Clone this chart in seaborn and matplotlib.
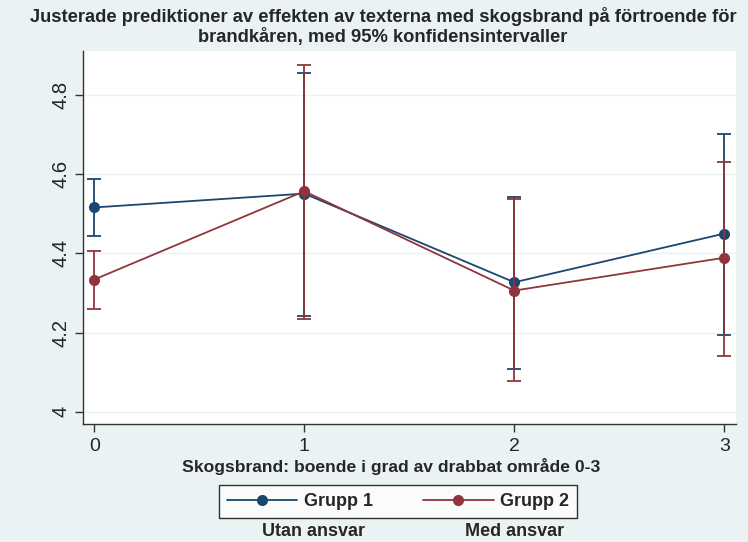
import matplotlib
matplotlib.use("Agg")
import matplotlib.pyplot as plt
import seaborn as sns
import pandas as pd
import numpy as np
from matplotlib.lines import Line2D

# Data
x_levels = [0, 1, 2, 3]
grupp1_mean = [4.516, 4.551, 4.327, 4.450]
grupp1_lo = [4.445, 4.242, 4.108, 4.194]
grupp1_hi = [4.588, 4.855, 4.542, 4.701]
grupp2_mean = [4.334, 4.557, 4.306, 4.389]
grupp2_lo = [4.260, 4.233, 4.077, 4.141]
grupp2_hi = [4.406, 4.877, 4.537, 4.631]
series_names = ["Grupp 1", "Grupp 2"]
y_ticks = [4.0, 4.2, 4.4, 4.6, 4.8]
y_ticklabels = ["4", "4.2", "4.4", "4.6", "4.8"]

title_lines = ["Justerade prediktioner av effekten av texterna med skogsbrand på förtroende för",
               "brandkåren, med 95% konfidensintervaller"]
xlabel = "Skogsbrand: boende i grad av drabbat område 0-3"
sub_labels = ["Utan ansvar", "Med ansvar"]

BG = "#eaf2f3"
BLUE = "#1a476f"
RED = "#90353b"
FAM = ["Liberation Sans", "DejaVu Sans"]

sns.set_theme(style="white")
plt.rcParams["font.family"] = FAM

df = pd.DataFrame({
    "x": x_levels * 2,
    "y": grupp1_mean + grupp2_mean,
    "group": [series_names[0]] * 4 + [series_names[1]] * 4,
})

fig = plt.figure(figsize=(7.48, 5.42), dpi=100, facecolor=BG)
ax = fig.add_axes([0.1106, 0.2177, 0.9840 - 0.1106, 0.9065 - 0.2177])
ax.set_facecolor("white")

for yt in y_ticks:
    ax.axhline(yt, color=BG, lw=1.0, zorder=0)

colors = {series_names[0]: BLUE, series_names[1]: RED}
cis = {series_names[0]: (grupp1_mean, grupp1_lo, grupp1_hi),
       series_names[1]: (grupp2_mean, grupp2_lo, grupp2_hi)}

for i, name in enumerate(series_names):
    m, lo, hi = cis[name]
    m = np.array(m); lo = np.array(lo); hi = np.array(hi)
    ax.errorbar(x_levels, m, yerr=[m - lo, hi - m], fmt="none",
                ecolor=colors[name], elinewidth=1.3, capsize=5, capthick=1.3,
                zorder=2 + i * 2)
    sns.lineplot(data=df[df.group == name], x="x", y="y", color=colors[name],
                 marker="o", markersize=8, markeredgewidth=0, linewidth=1.3,
                 ax=ax, zorder=3 + i * 2, legend=False)

ax.set_xlim(-0.055, 3.056)
ax.set_ylim(3.969, 4.912)
ax.set_yticks(y_ticks)
ax.set_yticklabels(y_ticklabels, rotation=90, va="center", fontsize=14.5)
ax.set_xticks(x_levels)
ax.set_xticklabels([str(v) for v in x_levels], fontsize=14)
ax.tick_params(axis="both", which="both", direction="out", length=6, width=1,
               color="#333333", left=True, bottom=True, pad=4)
ax.tick_params(axis="y", pad=3)
for s in ["top", "right"]:
    ax.spines[s].set_visible(False)
for s in ["left", "bottom"]:
    ax.spines[s].set_color("#333333")
    ax.spines[s].set_linewidth(1.0)
ax.set_xlabel(xlabel, fontsize=12.6, fontweight="bold")
ax.xaxis.set_label_coords((391 - 82.7) / 653.3, -(466 - 424) / 373.3)
ax.xaxis.label.set_va("center")
ax.set_ylabel("")

fig.text(383 / 748, 1 - 17 / 542, title_lines[0], ha="center", va="center",
         fontsize=13.2, fontweight="bold")
fig.text(383 / 748, 1 - 37 / 542, title_lines[1], ha="center", va="center",
         fontsize=13.2, fontweight="bold")

handles = [Line2D([0], [0], color=BLUE, lw=1.3, marker="o", markersize=8, markeredgewidth=0),
           Line2D([0], [0], color=RED, lw=1.3, marker="o", markersize=8, markeredgewidth=0)]
leg = fig.legend(handles, series_names, loc="center", bbox_to_anchor=(398 / 748, 1 - 501.5 / 542),
                 ncol=2, frameon=True, fancybox=False, edgecolor="black",
                 handlelength=3.9, columnspacing=2.8, handletextpad=0.35,
                 borderpad=0.45, prop={"weight": "bold", "size": 13})
leg.get_frame().set_linewidth(1.0)
leg.get_frame().set_facecolor("white")

fig.text(313 / 748, 1 - 531 / 542, sub_labels[0], ha="center", va="center",
         fontsize=13, fontweight="bold")
fig.text(515 / 748, 1 - 531 / 542, sub_labels[1], ha="center", va="center",
         fontsize=13, fontweight="bold")

fig.savefig("out.png", dpi=100, facecolor=BG)
